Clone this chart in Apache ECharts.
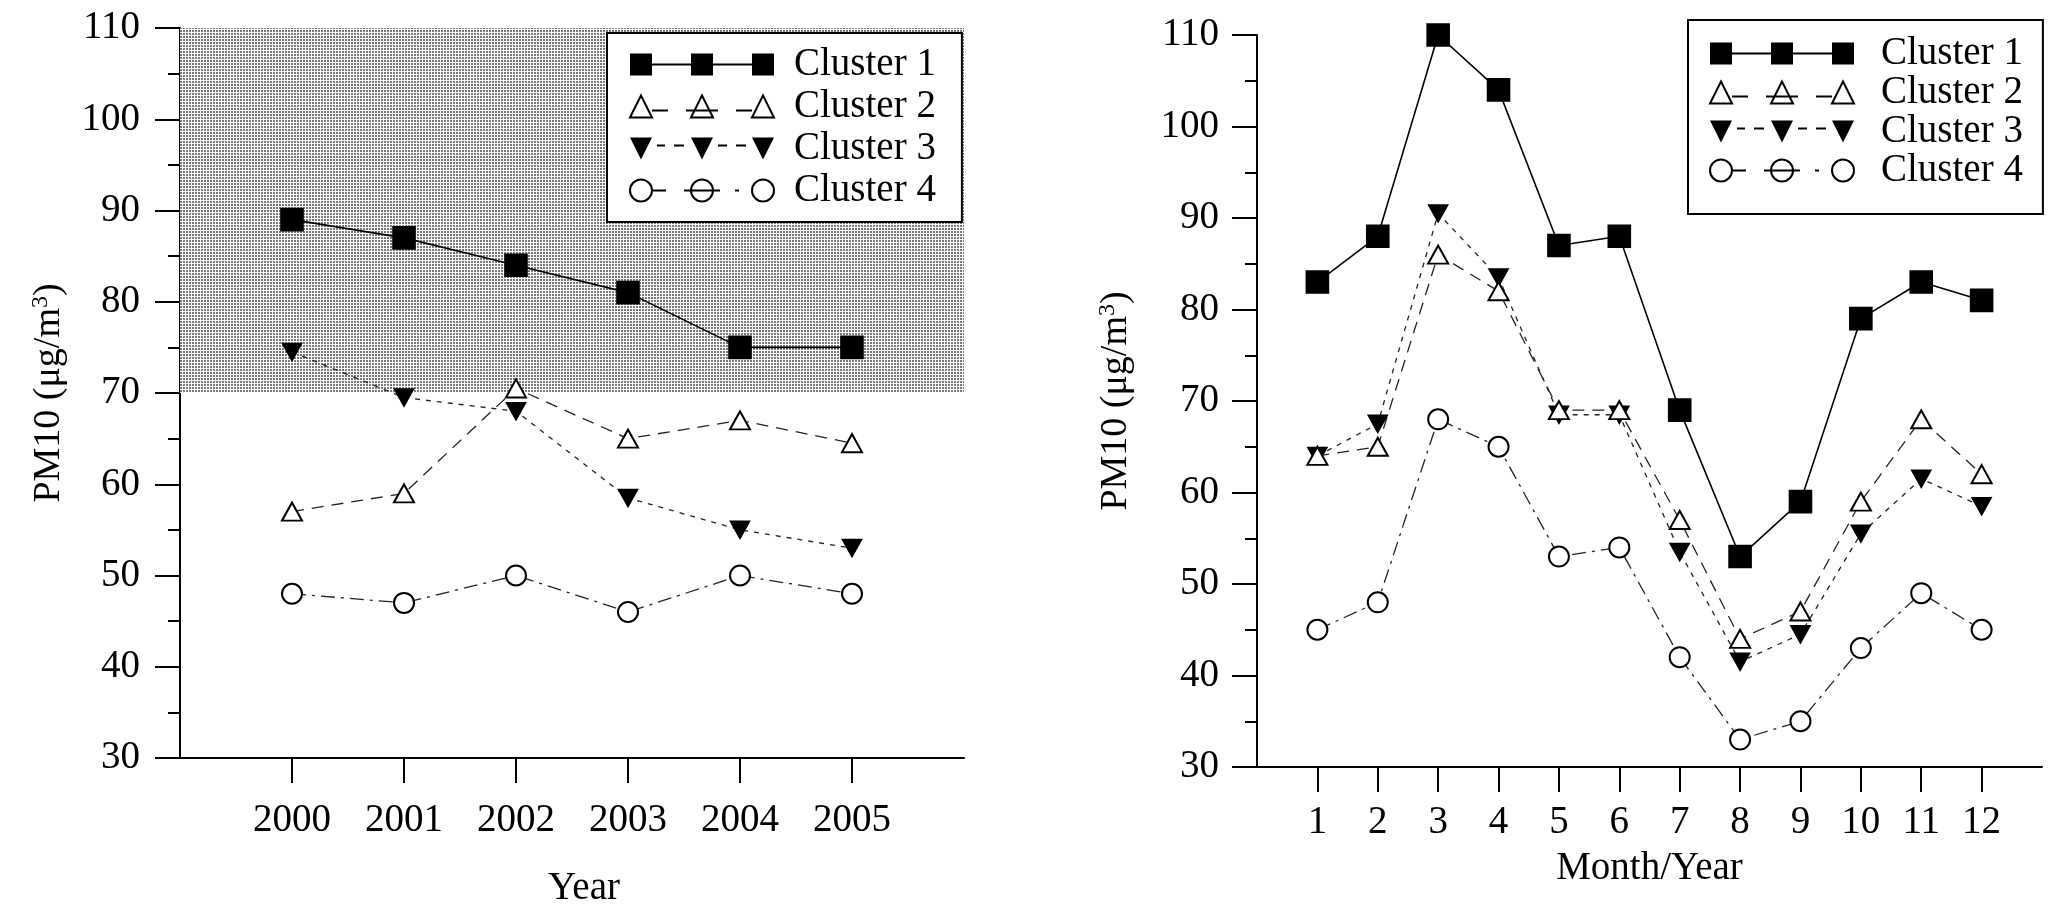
<!DOCTYPE html>
<html>
<head>
<meta charset="utf-8">
<title>PM10 clusters</title>
<script src="https://cdn.jsdelivr.net/npm/echarts@6/dist/echarts.min.js"></script>
<style>
html, body { margin: 0; padding: 0; background: #fff; }
#main { width: 2048px; height: 913px; }
</style>
</head>
<body>
<div id="main"></div>
<script>
// x categories
var years = [2000, 2001, 2002, 2003, 2004, 2005]
var months = [1, 2, 3, 4, 5, 6, 7, 8, 9, 10, 11, 12]
// y axis ticks
var yMin = 30
var yMax = 110
var yStep = 10
// shaded band on the yearly chart
var bandLow = 70
var bandHigh = 110

var clusterNames = ['Cluster 1', 'Cluster 2', 'Cluster 3', 'Cluster 4']

// yearly means
var yearC1 = [89, 87, 84, 81, 75, 75]
var yearC2 = [57, 59, 70.5, 65, 67, 64.5]
var yearC3 = [74.5, 69.5, 68, 58.5, 55, 53]
var yearC4 = [48, 47, 50, 46, 50, 48]

// monthly means
var monthC1 = [83, 88, 110, 104, 87, 88, 69, 53, 59, 79, 83, 81]
var monthC2 = [64, 65, 86, 82, 69, 69, 57, 44, 47, 59, 68, 62]
var monthC3 = [64, 67.5, 90.5, 83.5, 68.5, 68.5, 53.5, 41.5, 44.5, 55.5, 61.5, 58.5]
var monthC4 = [45, 48, 68, 65, 53, 54, 42, 33, 35, 43, 49, 45]

var FONT = 'Liberation Serif'

// stipple pattern for the band
function makeStipple() {
  var c = document.createElement('canvas')
  c.width = 3
  c.height = 3
  var ctx = c.getContext('2d')
  ctx.fillStyle = '#ffffff'
  ctx.fillRect(0, 0, 3, 3)
  ctx.fillStyle = '#7a7a7a'
  ctx.fillRect(0, 0, 2, 2)
  return c
}

function pairs(xs, ys) {
  var out = []
  for (var i = 0; i < xs.length; i++) {
    out.push([xs[i], ys[i]])
  }
  return out
}

// series look, per cluster
var looks = [
  { symbol: 'rect', symbolSize: 22, rotate: 0, line: 'solid', width: 1.6, color: '#000' },
  { symbol: 'emptyTriangle', symbolSize: [20, 18], rotate: 0, line: [12, 8], width: 1.3, color: '#222' },
  { symbol: 'triangle', symbolSize: [19, 17], rotate: 180, line: [5, 6], width: 1.3, color: '#222' },
  { symbol: 'emptyCircle', symbolSize: 20, rotate: 0, line: [14, 6, 3, 6], width: 1.3, color: '#222' }
]

// legend icons: three markers joined by the line style
var icons = [
  'path://M0 0H22V10H61V0H83V10H122V0H144V22H122V12H83V22H61V12H22V22H0Z',
  'path://M0 22L11 0L22 22Z M61 22L72 0L83 22Z M122 22L133 0L144 22Z M22 15H38 M56 15H88 M106 15H122',
  'path://M0 0H22L11 22Z M61 0H83L72 22Z M122 0H144L133 22Z M27 7H35V9H27Z M44 7H54V9H44Z M88 7H97V9H88Z M106 7H116V9H106Z',
  'path://M22 11A11 11 0 1 1 0 11A11 11 0 1 1 22 11Z M83 11A11 11 0 1 1 61 11A11 11 0 1 1 83 11Z M144 11A11 11 0 1 1 122 11A11 11 0 1 1 144 11Z M22 11H36 M54 11H90 M105 11H109'
]
var iconStyles = [
  { color: '#000', borderWidth: 0 },
  { color: 'rgba(0,0,0,0)', borderColor: '#000', borderWidth: 2 },
  { color: '#000', borderWidth: 0 },
  { color: 'rgba(0,0,0,0)', borderColor: '#000', borderWidth: 2 }
]

function legendData() {
  return clusterNames.map(function(n, i) {
    return { name: n, icon: icons[i], itemStyle: iconStyles[i] }
  })
}

function makeLegend(left, top, padding, gap, textPad) {
  return {
    orient: 'vertical',
    left: left,
    top: top,
    padding: padding,
    itemGap: gap,
    itemWidth: 144,
    itemHeight: 22,
    selectedMode: false,
    backgroundColor: '#fff',
    borderColor: '#000',
    borderWidth: 2,
    borderRadius: 0,
    textStyle: {
      fontFamily: FONT,
      fontSize: 39,
      lineHeight: 38,
      color: '#000',
      padding: [0, 0, 0, textPad]
    },
    data: legendData()
  }
}

var axisFont = { fontFamily: FONT, fontSize: 39, color: '#000' }
var axisLine = { show: true, onZero: false, lineStyle: { color: '#000', width: 2 } }

function yAxisOf(grid, gap, margin) {
  return {
    type: 'value',
    gridIndex: grid,
    min: yMin,
    max: yMax,
    interval: yStep,
    name: '{a|PM10 (μg/m}{s|3}{a|)}',
    nameLocation: 'middle',
    nameGap: gap,
    nameTextStyle: {
      rich: {
        a: { fontFamily: FONT, fontSize: 38, color: '#000', lineHeight: 40 },
        s: { fontFamily: FONT, fontSize: 24, color: '#000', lineHeight: 40, verticalAlign: 'top' }
      }
    },
    axisLine: axisLine,
    axisTick: { show: true, length: 25, lineStyle: { color: '#000', width: 2 } },
    minorTick: { show: true, splitNumber: 2, length: 12, lineStyle: { color: '#000', width: 2 } },
    splitLine: { show: false },
    axisLabel: Object.assign({ margin: margin }, axisFont)
  }
}

function xAxisOf(grid, lo, hi, ticks, name, gap, margin, namePad) {
  return {
    type: 'value',
    gridIndex: grid,
    min: lo,
    max: hi,
    interval: 1,
    name: name,
    nameLocation: 'middle',
    nameGap: gap,
    nameTextStyle: Object.assign({ padding: namePad }, axisFont),
    axisLine: axisLine,
    axisTick: { show: true, length: 25, customValues: ticks, lineStyle: { color: '#000', width: 2 } },
    splitLine: { show: false },
    axisLabel: Object.assign({
      margin: margin,
      customValues: ticks,
      formatter: function(v) { return String(v) }
    }, axisFont)
  }
}

function seriesOf(grid, xs, lists) {
  return lists.map(function(vals, i) {
    var lk = looks[i]
    var s = {
      name: clusterNames[i],
      type: 'line',
      xAxisIndex: grid,
      yAxisIndex: grid,
      data: pairs(xs, vals),
      symbol: lk.symbol,
      symbolSize: lk.symbolSize,
      symbolRotate: lk.rotate,
      showAllSymbol: true,
      itemStyle: { color: '#000', borderColor: '#000', borderWidth: 1.6 },
      lineStyle: { color: lk.color, width: lk.width, type: lk.line },
      emphasis: { disabled: true },
      z: 3 + (3 - i)
    }
    if (grid === 0 && i === 0) {
      s.markArea = {
        silent: true,
        itemStyle: { color: { image: makeStipple(), repeat: 'repeat' } },
        data: [[{ yAxis: bandLow }, { yAxis: bandHigh }]]
      }
    }
    return s
  })
}

var myChart = echarts.init(document.getElementById('main'))
var option = {
  animation: false,
  backgroundColor: '#fff',
  grid: [
    { left: 180, top: 28, width: 784, height: 730 },
    { left: 1257, top: 35, width: 785, height: 732 }
  ],
  legend: [
    makeLegend(607, 33, [12, 26, 12, 22], 3, 15),
    makeLegend(1688, 20, [14, 20, 24, 21], 0, 22)
  ],
  xAxis: [
    xAxisOf(0, 1999, 2006, years, 'Year', 111, 43, [0, 0, 0, 24]),
    xAxisOf(1, 0, 13, months, 'Month/Year', 82, 36, 0)
  ],
  yAxis: [
    yAxisOf(0, 111, 40),
    yAxisOf(1, 121, 38)
  ],
  series: seriesOf(0, years, [yearC1, yearC2, yearC3, yearC4])
    .concat(seriesOf(1, months, [monthC1, monthC2, monthC3, monthC4]))
}
myChart.setOption(option)
window.addEventListener('resize', function() {
  myChart.resize()
})
</script>
</body>
</html>
